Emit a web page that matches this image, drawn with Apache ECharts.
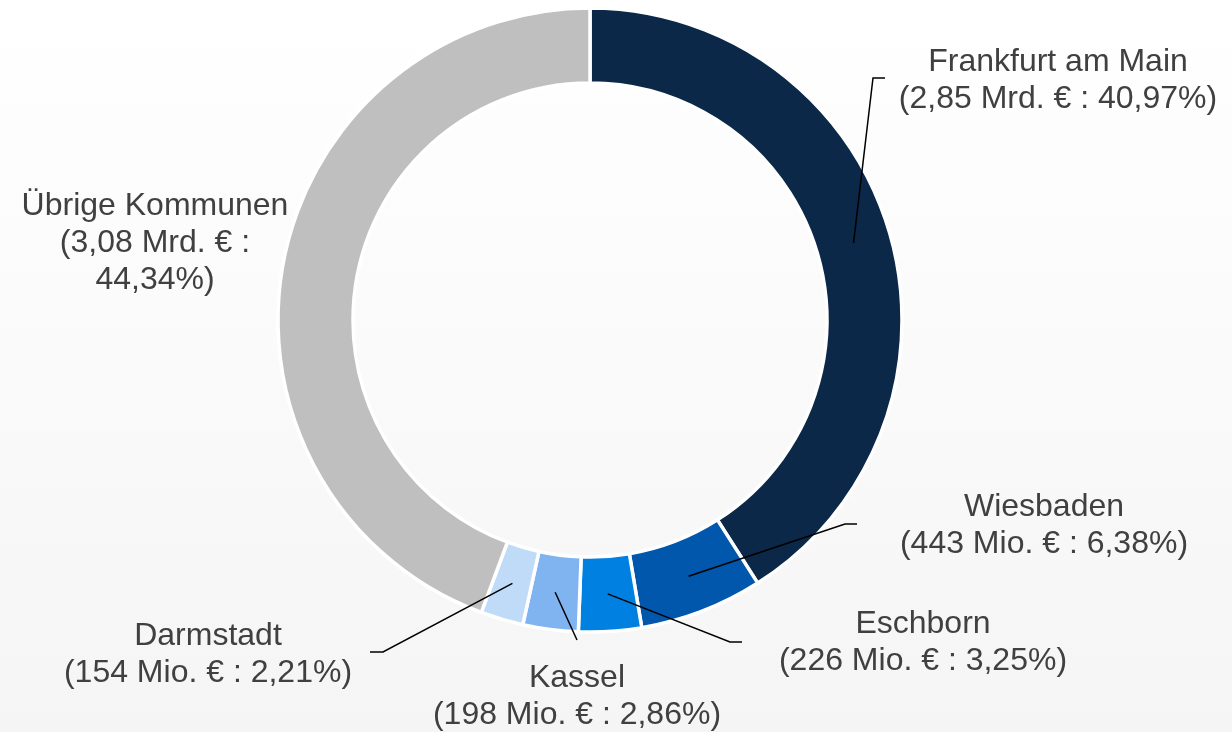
<!DOCTYPE html>
<html>
<head>
    <meta charset="utf-8">
    <title>Kommunen</title>
    <script src="https://cdn.jsdelivr.net/npm/echarts@6/dist/echarts.min.js"></script>
    <style>
        html, body { margin: 0; padding: 0; }
        #main { width: 1232px; height: 732px; }
    </style>
</head>
<body>
<div id="main"></div>
<script>
    // Daten
    var names = ['Frankfurt am Main', 'Wiesbaden', 'Eschborn', 'Kassel', 'Darmstadt', 'Übrige Kommunen'];
    var amounts = ['2,85 Mrd. €', '443 Mio. €', '226 Mio. €', '198 Mio. €', '154 Mio. €', '3,08 Mrd. €'];
    var shares = [40.97, 6.38, 3.25, 2.86, 2.21, 44.34];
    var colors = ['#0b2849', '#0057ab', '#0080e0', '#80b4f0', '#bfdbf7', '#bfbfbf'];

    // Lage der Beschriftungen (Mitte des Textblocks) und Knickpunkte der Linien
    var labelPos = [[1058, 81], [1044, 526], [923, 643], [577, 697], [208, 655], [155, 243]];
    var linePts = [
        [[873, 78], [885, 78]],
        [[845, 524], [857, 524]],
        [[730, 642], [742, 642]],
        [[577, 640]],
        [[383, 652], [370, 652]],
        null
    ];

    var cx = 590, cy = 320, r0 = 237, r1 = 312;
    var rMid = (r0 + r1) / 2;

    function fmtShare(v) {
        return v.toFixed(2).replace('.', ',') + '%';
    }

    // sichtbarer Ring
    var ringData = names.map(function (n, i) {
        return { name: n, value: shares[i], itemStyle: { color: colors[i] } };
    });

    // unsichtbare Kopie, nur für Beschriftung + Linien (liegt oben)
    var labelData = names.map(function (n, i) {
        var item = { name: n, value: shares[i] };
        if (!linePts[i]) item.labelLine = { show: false };
        return item;
    });

    var myChart = echarts.init(document.getElementById('main'));

    var option = {
        backgroundColor: {
            type: 'linear', x: 0, y: 0, x2: 0, y2: 1,
            colorStops: [{ offset: 0, color: '#ffffff' }, { offset: 1, color: '#f5f5f5' }]
        },
        animation: false,
        series: [{
            type: 'pie',
            z: 2,
            center: [cx, cy],
            radius: [r0, r1],
            startAngle: 90,
            clockwise: true,
            silent: true,
            itemStyle: { borderColor: '#ffffff', borderWidth: 3.5 },
            label: { show: false },
            labelLine: { show: false },
            data: ringData
        }, {
            type: 'pie',
            z: 4,
            center: [cx, cy],
            radius: [r0, r1],
            startAngle: 90,
            clockwise: true,
            silent: true,
            avoidLabelOverlap: false,
            itemStyle: { color: 'rgba(0,0,0,0)', borderWidth: 0 },
            label: {
                show: true,
                position: 'outside',
                color: '#404040',
                fontFamily: 'Liberation Sans, Arial, sans-serif',
                fontSize: 32,
                lineHeight: 37,
                align: 'center',
                formatter: function (p) {
                    var i = p.dataIndex;
                    if (i === 5) {
                        return names[i] + '\n(' + amounts[i] + ' :\n' + fmtShare(shares[i]) + ')';
                    }
                    return names[i] + '\n(' + amounts[i] + ' : ' + fmtShare(shares[i]) + ')';
                }
            },
            labelLine: {
                show: true,
                length: 10,
                length2: 10,
                lineStyle: { color: '#000000', width: 1.5 }
            },
            labelLayout: function (params) {
                var i = params.dataIndex;
                var res = {
                    x: labelPos[i][0],
                    y: labelPos[i][1],
                    align: 'center',
                    verticalAlign: 'middle'
                };
                var pts = params.labelLinePoints;
                if (linePts[i] && pts && pts.length) {
                    // Linie beginnt in der Mitte des Rings
                    var k = rMid / r1;
                    var start = [cx + (pts[0][0] - cx) * k, cy + (pts[0][1] - cy) * k];
                    res.labelLinePoints = [start].concat(linePts[i]);
                }
                return res;
            },
            data: labelData
        }]
    };
    myChart.setOption(option);
</script>
</body>
</html>
